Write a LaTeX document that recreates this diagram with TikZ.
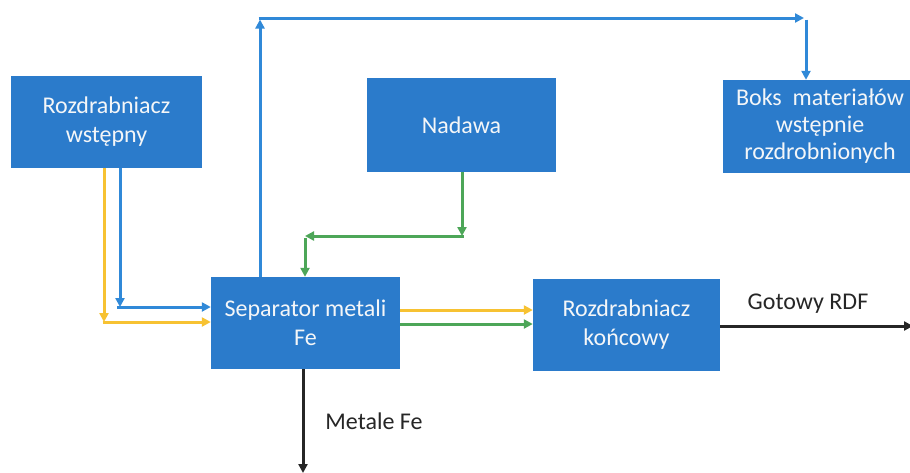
\documentclass[tikz,border=0pt]{standalone}
\usepackage{fontspec}
\setmainfont{Carlito}
\usetikzlibrary{arrows.meta}
\definecolor{boxblue}{HTML}{2B7BCB}
\definecolor{lineblue}{HTML}{3089D8}
\definecolor{lyellow}{HTML}{F7C232}
\definecolor{lgreen}{HTML}{4DA658}
\definecolor{ltext}{HTML}{262626}
\definecolor{boxtext}{HTML}{F4F6F8}
\begin{document}
\begin{tikzpicture}[x=1pt,y=-1pt,
  box/.style={fill=boxblue, text=boxtext, align=center, inner sep=0pt, font=\fontsize{24}{29}\selectfont},
  flow/.style={line width=3pt, -{Triangle[length=9pt,width=9pt]}},
  lbl/.style={text=ltext, inner sep=0pt, font=\fontsize{24}{29}\selectfont}]
\useasboundingbox (0,0) rectangle (910,472);
\fill[white] (0,0) rectangle (910,472);
% boxes
\node[box, minimum width=191pt, minimum height=92pt] (rw) at (106.5,122) {Rozdrabniacz\\wstępny};
\node[box, minimum width=189pt, minimum height=94pt] (nad) at (461.5,125) {Nadawa};
\node[box, minimum width=194pt, minimum height=93pt, font=\fontsize{24}{27}\selectfont] (boks) at (820,126.5) {Boks\ \ materiałów\\wstępnie\\rozdrobnionych};
\node[box, minimum width=189pt, minimum height=92pt] (sep) at (305.5,323) {Separator metali\\Fe};
\node[box, minimum width=187pt, minimum height=92pt] (rk) at (626.5,325) {Rozdrabniacz\\końcowy};
% coordinates
\coordinate (b1) at (120,307);
\coordinate (y1) at (104,322);
\coordinate (u1) at (260,18);
\coordinate (u2) at (806,18);
\coordinate (g1) at (462,236);
\coordinate (g2) at (305,236);
\coordinate (s1) at (0,310);
\coordinate (s2) at (0,324);
\coordinate (r1) at (913,326);
\coordinate (m1) at (303,473);
% blue and yellow from Rozdrabniacz wstepny
\draw[flow, lineblue] (rw.south -| b1) -- (b1);
\draw[flow, lineblue] ([xshift=-3pt]b1) -- (sep.west |- b1);
\draw[flow, lyellow] (rw.south -| y1) -- (y1);
\draw[flow, lyellow] ([xshift=-1.5pt]y1) -- (sep.west |- y1);
% blue loop to Boks
\draw[flow, lineblue] (sep.north -| u1) -- ([yshift=-1.5pt]u1);
\draw[flow, lineblue] ([xshift=-1.5pt]u1) -- ([xshift=-2pt]u2);
\draw[flow, lineblue] ([yshift=-1.5pt]u2) -- (boks.north -| u2);
% green from Nadawa
\draw[flow, lgreen] (nad.south -| g1) -- (g1);
\draw[flow, lgreen] ([xshift=1.5pt]g1) -- (g2);
\draw[flow, lgreen] ([yshift=-1.5pt]g2) -- (sep.north -| g2);
% separator to final shredder
\draw[flow, lyellow] (sep.east |- s1) -- (rk.west |- s1);
\draw[flow, lgreen] (sep.east |- s2) -- (rk.west |- s2);
% outputs
\draw[flow, ltext] (rk.east |- r1) -- (r1);
\draw[flow, ltext] (sep.south -| m1) -- (m1);
\node[lbl] (gl) at (808,304) {Gotowy RDF};
\node[lbl] (ml) at (374,421) {Metale Fe};
\end{tikzpicture}
\end{document}
